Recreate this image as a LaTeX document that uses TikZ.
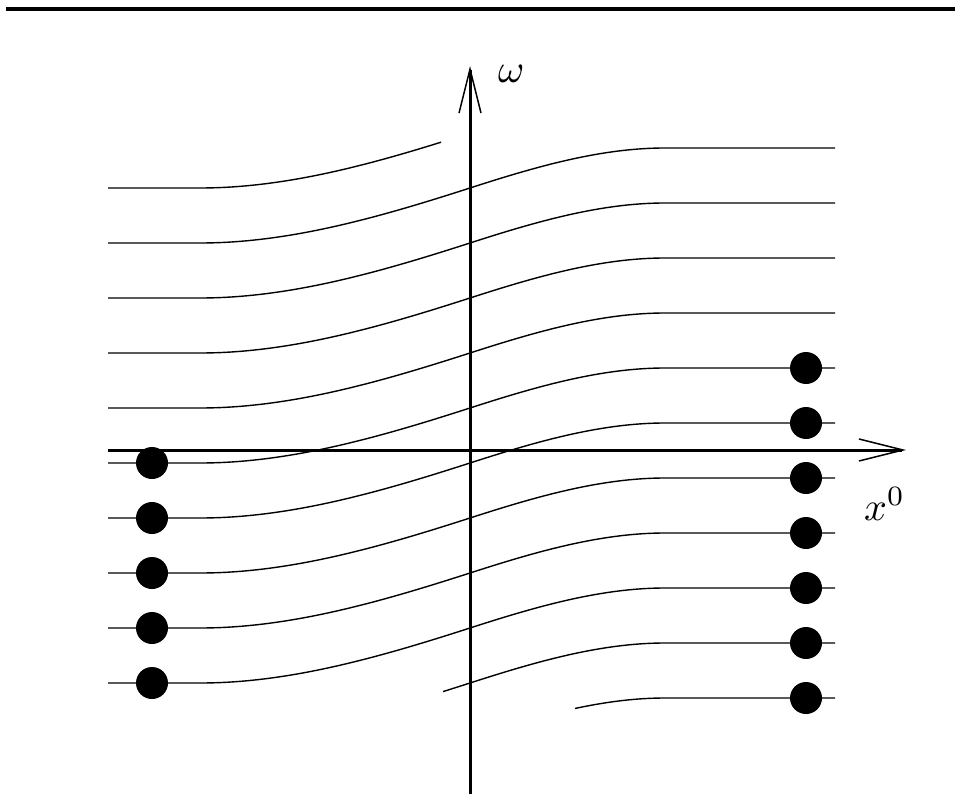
\documentclass[tikz,border=0pt]{standalone}
\usepackage{graphicx}
\usetikzlibrary{arrows.meta}
\newcommand\wcur[1]{(108,#1) -- (200,#1) .. controls (290,#1) and (380,#1-26) .. (470,#1-55) .. controls (535,#1-76) and (600,#1-95) .. (665,#1-95) -- (835,#1-95)}
\begin{document}
\begin{tikzpicture}[x=1pt,y=-1pt,
  curve/.style={line width=1.4pt,black},
  axis/.style={line width=3pt,-{Straight Barb[length=44pt,width=22pt,line width=1.5pt]}},
  dot/.style={circle,fill=black,inner sep=0pt,minimum size=32pt},
  lbl/.style={inner sep=0pt}]
\useasboundingbox (0,0) rectangle (955,794);
\draw[line width=4pt] (6,9) -- (955,9);
% curves
\foreach \y in {243,298,353,408,463,518,573,628,683}{
  \draw[curve] \wcur{\y};
}
\begin{scope}
  \clip (0,0) rectangle (441,794);
  \draw[curve] \wcur{188};
\end{scope}
\begin{scope}
  \clip (443,0) rectangle (955,794);
  \draw[curve] \wcur{738};
\end{scope}
\begin{scope}
  \clip (575,0) rectangle (955,794);
  \draw[curve] \wcur{793};
\end{scope}
% axes
\coordinate (hs) at (108,450);
\coordinate (he) at (906,450);
\coordinate (vs) at (470,794);
\coordinate (ve) at (470,66);
\draw[axis] (hs) -- (he);
\draw[axis] (vs) -- (ve);
\node[lbl,anchor=base west] (om) at (498,83) {\scalebox{4}{$\omega$}};
\node[lbl,anchor=base west] (x0) at (864,520) {\scalebox{4}{$x^0$}};
% dots
\foreach \y [count=\i] in {463,518,573,628,683}{
  \node[dot] (l\i) at (152,\y) {};
}
\foreach \y [count=\i] in {368,423,478,533,588,643,698}{
  \node[dot] (r\i) at (806,\y) {};
}
\end{tikzpicture}
\end{document}
